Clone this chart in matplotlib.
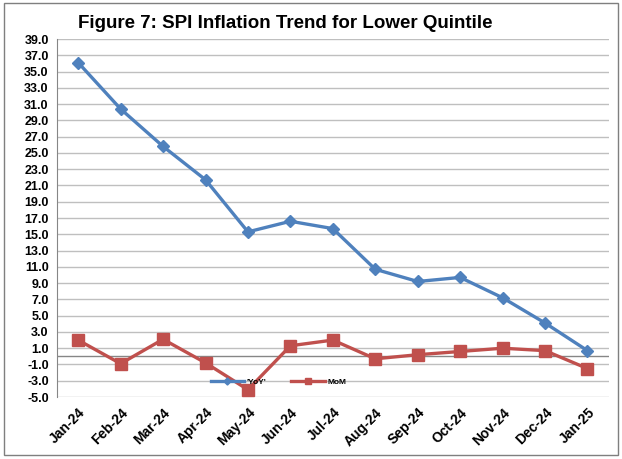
import numpy as np
import matplotlib.pyplot as plt
from matplotlib.patches import Rectangle

months = ["Jan-24", "Feb-24", "Mar-24", "Apr-24", "May-24", "Jun-24", "Jul-24",
          "Aug-24", "Sep-24", "Oct-24", "Nov-24", "Dec-24", "Jan-25"]
yoy = [36.1, 30.4, 25.8, 21.7, 15.3, 16.6, 15.7, 10.7, 9.2, 9.7, 7.2, 4.1, 0.7]
mom = [2.0, -0.9, 2.1, -0.8, -4.1, 1.3, 2.0, -0.3, 0.2, 0.6, 1.0, 0.7, -1.5]
yticks = np.arange(-5, 40, 2)

plt.rcParams['font.family'] = ['Liberation Sans', 'DejaVu Sans']

fig = plt.figure(figsize=(6.22, 4.59), dpi=100)
ax = fig.add_axes([0.0916, 0.135, 0.887, 0.78])

x = np.arange(len(months))
ax.plot(x, yoy, color='#4F81BD', lw=2.4, marker='D', ms=6, label="'YoY'")
ax.plot(x, mom, color='#C0504D', lw=2.4, marker='s', ms=8, label='MoM')

ax.set_xlim(-0.5, len(months) - 0.5)
ax.set_ylim(-5, 39)
ax.set_yticks(yticks)
ax.set_yticklabels([f"{v:.1f}" for v in yticks], fontsize=9, fontweight='bold')
ax.set_xticks(x)
ax.set_xticklabels(months, rotation=45, ha='right', rotation_mode='anchor',
                   fontsize=10, fontweight='bold')
ax.tick_params(axis='both', length=0, pad=6)
ax.grid(axis='y', color='#BFBFBF', lw=1)
ax.set_axisbelow(True)
ax.axhline(0, color='#868686', lw=1, zorder=1)
for s in ['top', 'right', 'bottom']:
    ax.spines[s].set_visible(False)
ax.spines['left'].set_color('#868686')

ax.legend(loc='upper left', bbox_to_anchor=(0.265, 0.075), ncol=2, frameon=False,
          handlelength=4, columnspacing=3, handletextpad=0.3, markerscale=0.6,
          prop={'weight': 'bold', 'size': 6})

fig.text(0.458, 0.948, "Figure 7: SPI Inflation Trend for Lower Quintile",
         ha='center', va='center', fontsize=13.5, fontweight='bold')

fig.patches.append(Rectangle((0.006, 0.008), 0.988, 0.985, transform=fig.transFigure,
                             fill=False, edgecolor='#7F7F7F', lw=1))

fig.savefig('out.png', dpi=100)
